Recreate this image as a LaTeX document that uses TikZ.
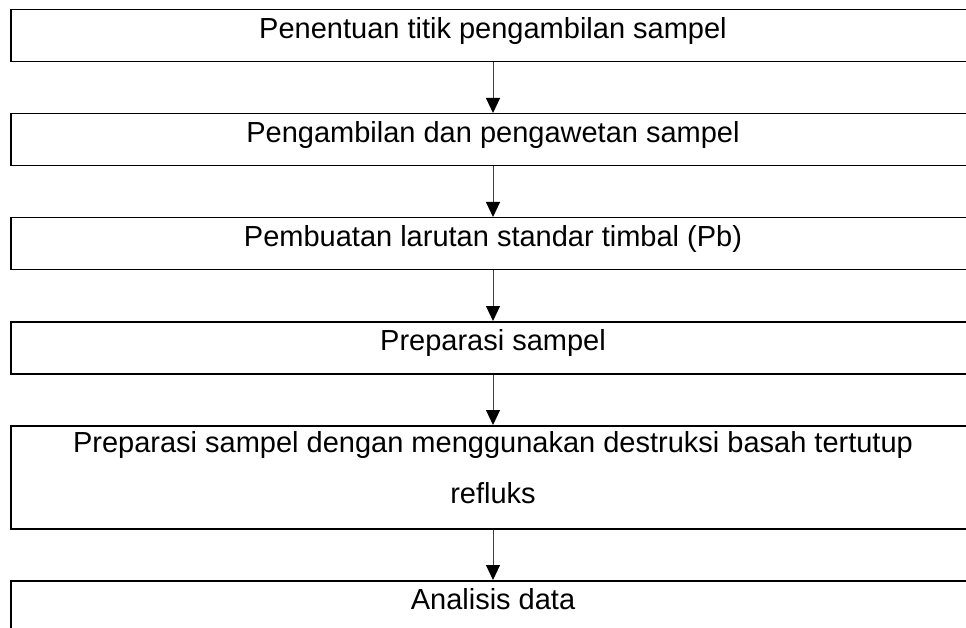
\documentclass[tikz,border=0pt]{standalone}
\usepackage{fontspec}
\setmainfont{Liberation Sans}
\usetikzlibrary{arrows.meta,positioning}

\begin{document}
\begin{tikzpicture}[x=1pt, y=1pt, ->, >={Triangle[width=14pt,length=15pt,color=black]}, node distance=50.5pt]
\tikzstyle{langkah}=[rectangle, draw=black, line width=1.5pt, minimum width=964pt, align=center, inner xsep=0pt, inner ysep=9pt, text height=20pt, text depth=14pt, font=\fontsize{29}{51}\selectfont]
\tikzstyle{every edge}=[draw=black!75, line width=1pt]
\clip (0,0) rectangle (966,-628);
\node[langkah, anchor=north] (1) at (493,-9) {Penentuan titik pengambilan sampel};
\node[langkah]    (2)[below=of 1]   {Pengambilan dan pengawetan sampel};
\node[langkah]    (3)[below=of 2]   {Pembuatan larutan standar timbal (Pb)};
\node[langkah]    (4)[below=of 3]   {Preparasi sampel};
\node[langkah, text height=69pt, text depth=16pt]    (5)[below=of 4]   {Preparasi sampel dengan menggunakan destruksi basah tertutup\\refluks};
\node[langkah]    (6)[below=of 5]   {Analisis data};
\path
(1) edge (2)
(2) edge (3)
(3) edge (4)
(4) edge (5)
(5) edge (6);
\end{tikzpicture}
\end{document}
